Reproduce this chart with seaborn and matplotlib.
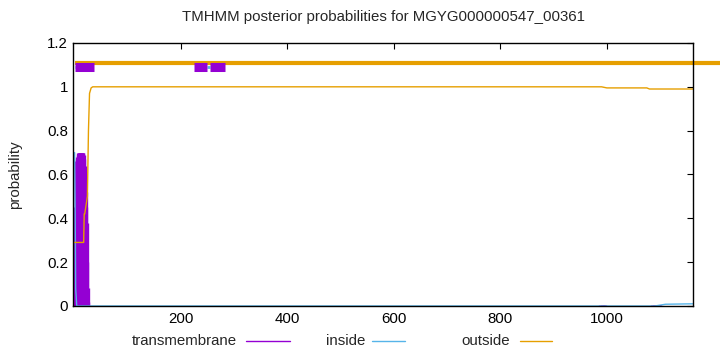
import numpy as np
import pandas as pd
import matplotlib
matplotlib.use("Agg")
import matplotlib.pyplot as plt
import seaborn as sns
from matplotlib.lines import Line2D

# ---- data ----
title = "TMHMM posterior probabilities for MGYG000000547_00361"
seq_len = 1161

# transmembrane probability (impulses), residues with non-zero value
tm_pos = [1, 2, 3, 4, 5, 6, 7, 8, 9, 10, 11, 12, 13, 14, 15, 16, 17, 18, 19, 20,
          21, 22, 23, 24, 25, 26, 27,
          988, 990, 992, 994, 996, 1085, 1088, 1091, 1094, 1097, 1100]
tm_val = [0.02, 0.45, 0.62, 0.66, 0.67, 0.68, 0.69, 0.70, 0.70, 0.70, 0.70, 0.70,
          0.70, 0.70, 0.70, 0.70, 0.70, 0.69, 0.67, 0.64, 0.60, 0.52, 0.45, 0.38,
          0.20, 0.08, 0.02,
          0.004, 0.005, 0.005, 0.004, 0.003, 0.003, 0.004, 0.005, 0.005, 0.004, 0.003]

# inside probability
in_pos = [1, 2, 3, 5, 30, 200, 600, 1000, 1090, 1110, 1161]
in_val = [0.70, 0.45, 0.08, 0.0, 0.0, 0.0, 0.0, 0.0, 0.0, 0.008, 0.01]

# outside probability
out_pos = [1, 18, 19, 20, 25, 27, 29, 32, 35, 200, 600, 990, 1000, 1075, 1080, 1161]
out_val = [0.29, 0.29, 0.42, 0.42, 0.50, 0.80, 0.97, 0.995, 1.0, 1.0, 1.0, 1.0,
           0.995, 0.995, 0.99, 0.99]

# predicted topology bars at the top
outside_seg = [(1, 1215)]
tm_seg = [(1, 38), (225, 249), (255, 283)]
inside_seg = [(1, 3), (249, 255)]

yticks = [0, 0.2, 0.4, 0.6, 0.8, 1.0, 1.2]
ytick_labels = ["0", "0.2", "0.4", "0.6", "0.8", "1", "1.2"]
xticks = [200, 400, 600, 800, 1000]

c_tm = "#9400d3"
c_in = "#56b4e9"
c_out = "#e69f00"

sns.set_style("white")
plt.rcParams["font.family"] = ["Liberation Sans", "DejaVu Sans"]
FS = 10.8

fig = plt.figure(figsize=(7.2, 3.52), dpi=100)
ax = fig.add_axes([0.1014, 0.1307, 0.8606, 0.7472])

# transmembrane impulses
ax.vlines(tm_pos, 0, tm_val, color=c_tm, lw=2.4)

df_in = pd.DataFrame({"pos": in_pos, "p": in_val})
df_out = pd.DataFrame({"pos": out_pos, "p": out_val})
sns.lineplot(data=df_in, x="pos", y="p", ax=ax, color=c_in, lw=1.0, estimator=None)
sns.lineplot(data=df_out, x="pos", y="p", ax=ax, color=c_out, lw=1.0, estimator=None)

for a, b in outside_seg:
    ax.plot([a, b], [1.11, 1.11], color=c_out, lw=3.0, clip_on=False, solid_capstyle="butt")
for a, b in inside_seg:
    ax.plot([a, b], [1.09, 1.09], color=c_in, lw=2.0, solid_capstyle="butt")
for a, b in tm_seg:
    ax.plot([a, b], [1.09, 1.09], color=c_tm, lw=6.5, solid_capstyle="butt")

ax.set_xlim(-2, seq_len)
ax.set_ylim(0, 1.2)
ax.set_xticks(xticks)
ax.set_yticks(yticks)
ax.set_yticklabels(ytick_labels)
ax.tick_params(direction="in", length=4, labelsize=FS, colors="black",
               top=True, right=True, width=0.8)
ax.tick_params(axis="x", pad=4)
ax.set_xlabel("")
ax.set_ylabel("")
for s in ax.spines.values():
    s.set_visible(True)
    s.set_color("black")
    s.set_linewidth(1.0)

fig.text(384 / 720, 1 - 17 / 352, title, ha="center", va="center", fontsize=FS)
fig.text(15 / 720, 1 - 175 / 352, "probability", ha="center", va="center",
         rotation=90, fontsize=FS)

# legend (gnuplot style, bottom)
ly = 1 - 341 / 352
entries = [("transmembrane", c_tm, 237, 246, 290),
           ("inside", c_in, 365, 372, 405),
           ("outside", c_out, 510, 520, 552)]
for label, col, tx, x0, x1 in entries:
    fig.text(tx / 720, ly, label, ha="right", va="center", fontsize=FS)
    fig.add_artist(Line2D([x0 / 720, x1 / 720], [ly, ly], color=col, lw=1.0,
                          transform=fig.transFigure))

fig.savefig("out.png", dpi=100, facecolor="white")
